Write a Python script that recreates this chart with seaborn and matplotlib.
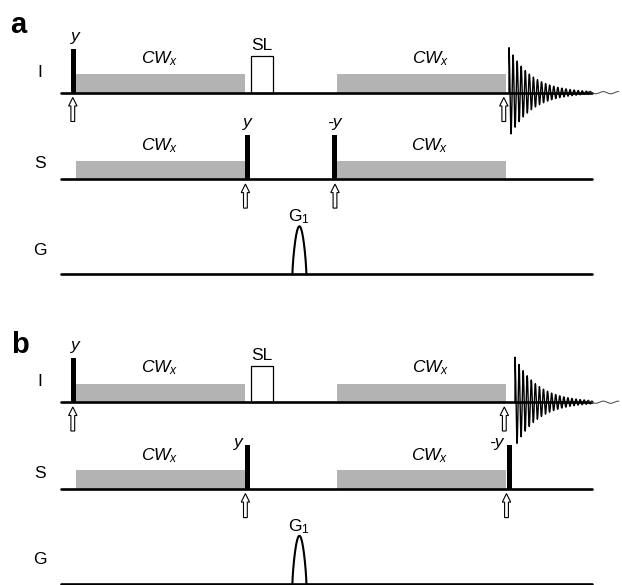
import numpy as np
import pandas as pd
import matplotlib
matplotlib.use("Agg")
import matplotlib.pyplot as plt
import seaborn as sns
from matplotlib.patches import Polygon

# ---------------- diagram data (pixel-like time / amplitude units) ----------------
W, H = 622, 585
panel_names = ["a", "b"]
panel_label_x = [18, 20]
panel_label_base = [33, 353]
panel_shift = [0, 309.5]

channels = ["I", "S", "G"]
channel_base = [92.7, 179.3, 274.3]
channel_label_base = [77, 168, 255]
line_start, line_end = 60.5, 592

# hard pulses
pulse_panel = [0, 0, 0, 1, 1, 1]
pulse_chan = [0, 1, 1, 0, 1, 1]
pulse_x = [73.4, 247.6, 334.6, 73.4, 247.6, 509.0]
pulse_phase = ["y", "y", "-y", "y", "y", "-y"]
pulse_label_side = ["top", "top", "top", "top", "left", "left"]
pulse_h, pulse_w = 44, 5.0

# CW decoupling / irradiation blocks
cw_panel = [0, 0, 0, 0, 1, 1, 1, 1]
cw_chan = [0, 0, 1, 1, 0, 0, 1, 1]
cw_start = [76, 337, 76, 337, 76, 337, 76, 337]
cw_end = [245, 506, 245, 506, 245, 506, 245, 506]
cw_label_x = [160, 431, 160, 430, 160, 431, 160, 430]
cw_h = 18.7

# spin-lock block (I channel)
sl_start, sl_end, sl_h = 250.7, 272.7, 36.5

# open arrows (panel, channel, x)
arrow_panel = [0, 0, 0, 0, 1, 1, 1, 1]
arrow_chan = [0, 0, 1, 1, 0, 0, 1, 1]
arrow_x = [72.8, 503.8, 245.4, 335.0, 72.8, 504.3, 245.4, 506.5]

# FID on I channel
fid_start = [509.0, 515.0]
fid_amp, fid_decay, fid_period = 45.0, 23.0, 4.07
tail_end = 619

# gradient lobe
grad_center, grad_width, grad_h = 299.4, 14.0, 48
grad_label = r"$\mathrm{G}_1$"

gray = "#b3b3b3"

# ---------------- style ----------------
sns.set_theme(style="white")
plt.rcParams["font.family"] = ["Liberation Sans", "DejaVu Sans"]
plt.rcParams["text.color"] = "black"
plt.rcParams["mathtext.fontset"] = "custom"
plt.rcParams["mathtext.rm"] = "Liberation Sans"
plt.rcParams["mathtext.it"] = "Liberation Sans:italic"
plt.rcParams["mathtext.bf"] = "Liberation Sans:bold"

fig = plt.figure(figsize=(W / 100, H / 100), dpi=100)
ax = fig.add_axes([0, 0, 1, 1])
fs = 12.5

base_rows, fid_rows, tail_rows, grad_rows = [], [], [], []
seg = 0
for p, shift in enumerate(panel_shift):
    ax.text(panel_label_x[p], panel_label_base[p], panel_names[p], fontsize=21,
            fontweight="bold", ha="center", va="baseline", color="black")
    for c, name in enumerate(channels):
        b = channel_base[c] + shift
        ax.text(40, channel_label_base[c] + shift, name, fontsize=fs,
                ha="center", va="baseline", color="black")
        for xx in (line_start, line_end):
            base_rows.append((seg, xx, b))
        seg += 1

    # CW blocks
    for i in range(len(cw_start)):
        if cw_panel[i] != p:
            continue
        b = channel_base[cw_chan[i]] + shift
        ax.bar(cw_start[i], -cw_h, width=cw_end[i] - cw_start[i], bottom=b,
               align="edge", color=gray, linewidth=0, zorder=2)
        yl = b - cw_h - (11 if cw_chan[i] == 0 else 10)
        ax.text(cw_label_x[i], yl, r"$CW_x$", fontsize=fs, ha="center", va="baseline",
                color="black")

    # spin lock
    bI = channel_base[0] + shift
    ax.bar(sl_start, -sl_h, width=sl_end - sl_start, bottom=bI, align="edge",
           facecolor="white", edgecolor="black", linewidth=0.9, zorder=2)
    ax.text((sl_start + sl_end) / 2 + 0.5, bI - sl_h - 6, "SL", fontsize=fs,
            ha="center", va="baseline", color="black")

    # hard pulses
    for i in range(len(pulse_x)):
        if pulse_panel[i] != p:
            continue
        b = channel_base[pulse_chan[i]] + shift
        ax.bar(pulse_x[i], -pulse_h, width=pulse_w, bottom=b, align="center",
               color="black", linewidth=0, zorder=4)
        if pulse_label_side[i] == "top":
            ax.text(pulse_x[i] + (1.5 if pulse_chan[i] == 0 else 0), b - pulse_h - 8,
                    pulse_phase[i], fontsize=fs, style="italic", ha="center",
                    va="baseline", color="black")
        else:
            ax.text(pulse_x[i] - 5, b - pulse_h + 2, pulse_phase[i], fontsize=fs,
                    style="italic", ha="right", va="baseline", color="black")

    # arrows
    for i in range(len(arrow_x)):
        if arrow_panel[i] != p:
            continue
        tip = channel_base[arrow_chan[i]] + shift + 4.8
        x0 = arrow_x[i]
        pts = [(x0, tip), (x0 + 4.2, tip + 8.5), (x0 + 1.9, tip + 8.5), (x0 + 1.9, tip + 24),
               (x0 - 1.9, tip + 24), (x0 - 1.9, tip + 8.5), (x0 - 4.2, tip + 8.5)]
        ax.add_patch(Polygon(pts, closed=True, facecolor="white", edgecolor="black",
                             linewidth=0.8, zorder=5))

    # FID
    t = np.arange(0, line_end - fid_start[p], 0.05)
    yf = bI - fid_amp * np.exp(-t / fid_decay) * np.cos(2 * np.pi * t / fid_period)
    fid_rows.append((p, fid_start[p], bI))
    fid_rows += [(p, fid_start[p] + tt, yy) for tt, yy in zip(t, yf)]
    xt = np.arange(line_end - 4, tail_end, 0.2)
    yt = bI + 1.1 * np.sin(2 * np.pi * (xt - line_end) / 15.0)
    tail_rows += [(p, xx, yy) for xx, yy in zip(xt, yt)]

    # gradient lobe
    bG = channel_base[2] + shift
    xg = np.linspace(grad_center - grad_width / 2, grad_center + grad_width / 2, 200)
    yg = bG - grad_h * np.sin(np.pi * (xg - xg[0]) / grad_width) ** 0.7
    grad_rows += [(p, xx, yy) for xx, yy in zip(xg, yg)]
    ax.text(grad_center, bG - grad_h - 5, grad_label, fontsize=fs, ha="center",
            va="baseline", color="black")

base_df = pd.DataFrame(base_rows, columns=["seg", "x", "y"])
fid_df = pd.DataFrame(fid_rows, columns=["seg", "x", "y"])
tail_df = pd.DataFrame(tail_rows, columns=["seg", "x", "y"])
grad_df = pd.DataFrame(grad_rows, columns=["seg", "x", "y"])

sns.lineplot(data=base_df, x="x", y="y", units="seg", estimator=None, sort=False,
             color="black", linewidth=1.9, ax=ax, zorder=3)
sns.lineplot(data=fid_df, x="x", y="y", units="seg", estimator=None, sort=False,
             color="black", linewidth=1.0, ax=ax, zorder=6)
sns.lineplot(data=tail_df, x="x", y="y", units="seg", estimator=None, sort=False,
             color="#444444", linewidth=0.7, ax=ax, zorder=6)
sns.lineplot(data=grad_df, x="x", y="y", units="seg", estimator=None, sort=False,
             color="black", linewidth=1.5, ax=ax, zorder=6)

ax.set_xlim(0, W)
ax.set_ylim(H, 0)
ax.axis("off")
fig.savefig("out.png", dpi=100, facecolor="white")
